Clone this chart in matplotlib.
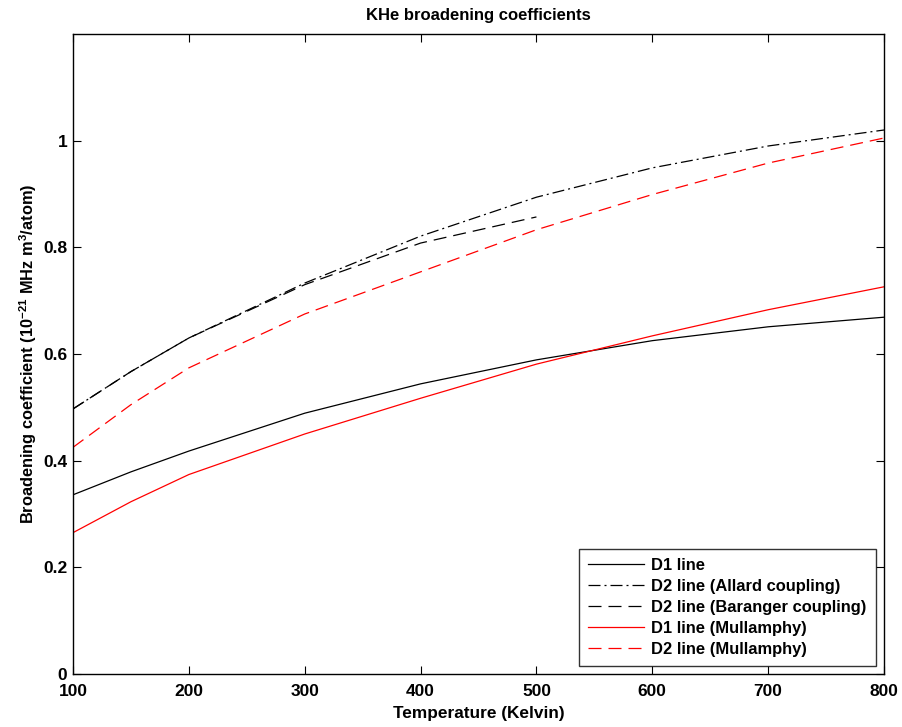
import matplotlib
matplotlib.use("Agg")
import matplotlib.pyplot as plt

T = [100, 150, 200, 300, 400, 500, 600, 700, 800]
d1 = [0.336, 0.379, 0.418, 0.489, 0.544, 0.589, 0.625, 0.651, 0.669]
d2_allard = [0.497, 0.567, 0.630, 0.733, 0.821, 0.894, 0.949, 0.990, 1.020]
T_bar = [100, 150, 200, 300, 400, 500]
d2_baranger = [0.497, 0.567, 0.630, 0.730, 0.808, 0.857]
d1_mull = [0.265, 0.323, 0.374, 0.450, 0.517, 0.581, 0.634, 0.683, 0.726]
d2_mull = [0.425, 0.505, 0.574, 0.675, 0.754, 0.833, 0.899, 0.958, 1.005]

plt.rcParams['font.family'] = ['Liberation Sans', 'DejaVu Sans']
plt.rcParams['font.weight'] = 'bold'
plt.rcParams['mathtext.fontset'] = 'custom'
plt.rcParams['mathtext.rm'] = 'Liberation Sans:bold'
plt.rcParams['mathtext.default'] = 'rm'

fig = plt.figure(figsize=(9.02, 7.27), dpi=100)
ax = fig.add_axes([73/902, 53/727, (884-73)/902, (674-34)/727])

lw = 0.9
ax.plot(T, d1, color='black', lw=lw, ls='-', label='D1 line')
ax.plot(T, d2_allard, color='black', lw=lw, ls=(0, (9.6, 3.2, 1.6, 3.2)), label='D2 line (Allard coupling)')
ax.plot(T_bar, d2_baranger, color='black', lw=lw, ls=(0, (10.4, 5.6)), label='D2 line (Baranger coupling)')
ax.plot(T, d1_mull, color='red', lw=lw, ls='-', label='D1 line (Mullamphy)')
ax.plot(T, d2_mull, color='red', lw=lw, ls=(0, (10.4, 5.6)), label='D2 line (Mullamphy)')

ax.set_xlim(100, 800)
ax.set_ylim(0, 1.2)
ax.set_xticks([100, 200, 300, 400, 500, 600, 700, 800])
ax.set_yticks([0, 0.2, 0.4, 0.6, 0.8, 1.0])
ax.set_yticklabels(['0', '0.2', '0.4', '0.6', '0.8', '1'])
ax.tick_params(direction='in', length=6, width=0.8, top=True, right=True, labelsize=12.5)
ax.tick_params(axis='x', pad=7)
ax.tick_params(axis='y', pad=4)
for s in ax.spines.values():
    s.set_linewidth(1.0)

ax.set_title('KHe broadening coefficients', fontsize=12, fontweight='bold', pad=10)
ax.set_xlabel('Temperature (Kelvin)', fontsize=12.4, fontweight='bold', labelpad=5)
ax.set_ylabel('Broadening coefficient (10$^{-21}$ MHz m$^{3}$/atom)', fontsize=11.8, fontweight='bold', labelpad=3)

leg = ax.legend(loc='lower right', fontsize=11.9, frameon=True, fancybox=False,
                edgecolor='black', handlelength=3.4, borderaxespad=0.5,
                labelspacing=0.36, handletextpad=0.45, borderpad=0.55)
leg.get_frame().set_linewidth(1.0)

fig.savefig('out.png', dpi=100)
